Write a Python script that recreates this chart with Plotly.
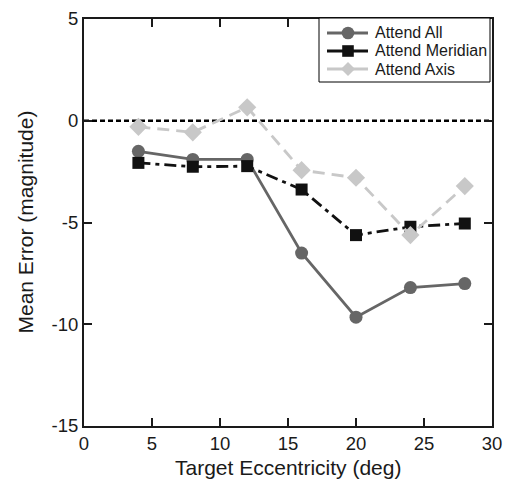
import plotly.graph_objects as go

ecc = [4, 8, 12, 16, 20, 24, 28]
attend_all = [-1.5, -1.9, -1.9, -6.5, -9.65, -8.2, -8.0]
attend_meridian = [-2.07, -2.26, -2.23, -3.38, -5.62, -5.21, -5.05]
attend_axis = [-0.3, -0.57, 0.66, -2.43, -2.8, -5.62, -3.21]

series_names = ["Attend All", "Attend Meridian", "Attend Axis"]
x_ticks = [0, 5, 10, 15, 20, 25, 30]
y_ticks = [5, 0, -5, -10, -15]

FONT = "Liberation Sans, Arial, sans-serif"
W, H = 505, 482
ML, MR, MT, MB = 84, 13, 19, 56
PW, PH = W - ML - MR, H - MT - MB

def px(X):
    return (X - ML) / PW

def py(Y):
    return (H - MB - Y) / PH

styles = [
    dict(color="#666666", dash="solid", symbol="circle", size=13),
    dict(color="#111111", dash="12px,5px,4px,5px", symbol="square", size=12),
    dict(color="#c8c8c8", dash="12px,7px", symbol="diamond", size=14),
]

fig = go.Figure()
fig.add_trace(go.Scatter(x=[0, 30], y=[0, 0], mode="lines", showlegend=False,
                         line=dict(color="black", width=2.3, dash="5px,3px"), hoverinfo="skip"))
for name, vals, st in zip(series_names, [attend_all, attend_meridian, attend_axis], styles):
    fig.add_trace(go.Scatter(x=ecc, y=vals, name=name, mode="lines+markers", showlegend=False,
                             line=dict(color=st["color"], width=2.8, dash=st["dash"]),
                             marker=dict(symbol=st["symbol"], size=st["size"], color=st["color"])))

# custom legend (box, samples, labels)
shapes = [dict(type="rect", xref="paper", yref="paper", x0=px(319), x1=px(490), y0=py(82), y1=py(18),
               line=dict(color="black", width=1), fillcolor="white", layer="above")]
annotations = []
rows = [33, 51, 69]
for name, st, ry in zip(series_names, styles, rows):
    shapes.append(dict(type="line", xref="paper", yref="paper", x0=px(327), x1=px(368), y0=py(ry), y1=py(ry),
                       line=dict(color=st["color"], width=2.8), layer="above"))
    cx, r = 348, 6.3
    if st["symbol"] == "circle":
        shapes.append(dict(type="circle", xref="paper", yref="paper", x0=px(cx - r), x1=px(cx + r),
                           y0=py(ry + r), y1=py(ry - r), fillcolor=st["color"], line=dict(width=0), layer="above"))
    elif st["symbol"] == "square":
        s = 5.8
        shapes.append(dict(type="rect", xref="paper", yref="paper", x0=px(cx - s), x1=px(cx + s),
                           y0=py(ry + s), y1=py(ry - s), fillcolor=st["color"], line=dict(width=0), layer="above"))
    else:
        d = 7
        path = "M {a},{b} L {c},{e} L {a},{f} L {g},{e} Z".format(
            a=px(cx), b=py(ry - d), c=px(cx + d), e=py(ry), f=py(ry + d), g=px(cx - d))
        shapes.append(dict(type="path", xref="paper", yref="paper", path=path,
                           fillcolor=st["color"], line=dict(width=0), layer="above"))
    annotations.append(dict(xref="paper", yref="paper", x=px(373), y=py(ry), xanchor="left", yanchor="middle",
                            text=name, showarrow=False, font=dict(family=FONT, size=16, color="#1a1a1a")))

# axis titles
annotations.append(dict(xref="paper", yref="paper", x=0.5, y=py(481), xanchor="center", yanchor="bottom",
                        text="Target Eccentricity (deg)", showarrow=False,
                        font=dict(family=FONT, size=21, color="#1a1a1a")))
annotations.append(dict(xref="paper", yref="paper", x=px(25), y=0.5, xanchor="center", yanchor="middle",
                        text="Mean Error (magnitude)", textangle=-90, showarrow=False,
                        font=dict(family=FONT, size=21, color="#1a1a1a")))

axis_common = dict(showgrid=False, zeroline=False, showline=True, linecolor="#1a1a1a", linewidth=2,
                   ticks="inside", ticklen=8, tickwidth=2, tickcolor="#1a1a1a", mirror="ticks",
                   automargin=False, tickfont=dict(family=FONT, size=18.5, color="#1a1a1a"))

fig.update_layout(
    width=W, height=H,
    margin=dict(l=ML, r=MR, t=MT, b=MB),
    paper_bgcolor="white", plot_bgcolor="white",
    font=dict(family=FONT, color="#1a1a1a"),
    showlegend=False,
    xaxis=dict(range=[0, 30], tickvals=x_ticks, ticktext=[str(v) for v in x_ticks], **axis_common),
    yaxis=dict(range=[-15, 5], tickvals=y_ticks, ticktext=[str(v) for v in y_ticks], **axis_common),
    shapes=shapes,
    annotations=annotations,
)

fig.write_html("out.html")
